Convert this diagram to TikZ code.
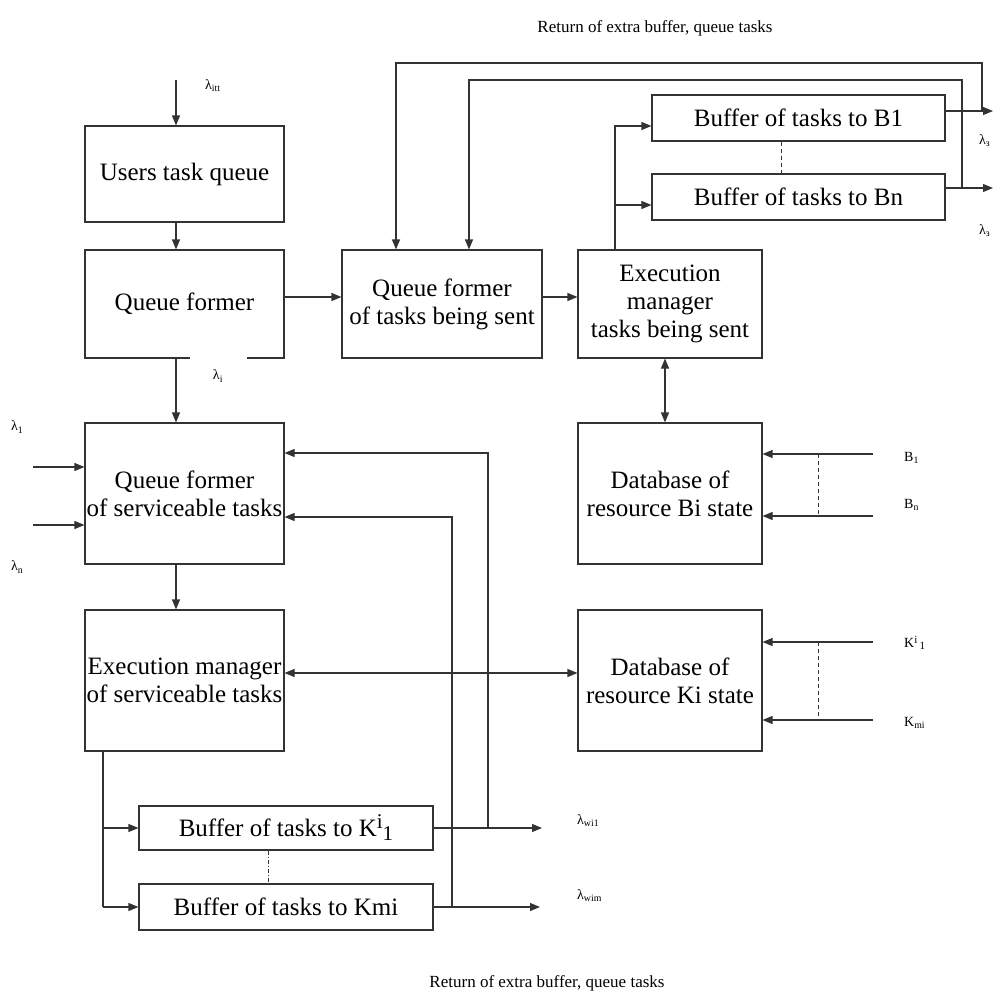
\documentclass[tikz,border=0pt]{standalone}
\usepackage{fontspec}
\setmainfont{Liberation Serif}
\usetikzlibrary{arrows.meta}
\begin{document}
\begin{tikzpicture}[x=1pt,y=-1pt,
  ln/.style={line width=1.1pt, draw=black!80},
  arr/.style={ln, -{Triangle[length=10pt,width=8pt]}},
  darr/.style={ln, {Triangle[length=10pt,width=8pt]}-{Triangle[length=10pt,width=8pt]}},
  blk/.style={draw=black!80, line width=1.1pt, fill=white, align=center, inner sep=0pt, font=\fontsize{25}{28}\selectfont},
  lab/.style={font=\fontsize{14}{16}\selectfont, inner sep=1pt},
  big/.style={font=\fontsize{17}{20}\selectfont, inner sep=0pt},
]
\useasboundingbox (0,0) rectangle (994,994);
\clip (0,0) rectangle (994,994);

% blocks
\node[blk, minimum width=199pt, minimum height=96pt]  (utq)  at (184.5,174)   {Users task queue};
\node[blk, minimum width=199pt, minimum height=108pt] (qf)   at (184.5,304)   {Queue former};
\node[blk, minimum width=200pt, minimum height=108pt] (qfts) at (442,304)     {Queue former\\of tasks being sent};
\node[blk, minimum width=184pt, minimum height=108pt] (ems)  at (670,304)     {Execution\\manager\\tasks being sent};
\node[blk, minimum width=293pt, minimum height=46pt]  (bb1)  at (798.5,118)   {Buffer of tasks to B1};
\node[blk, minimum width=293pt, minimum height=46pt]  (bbn)  at (798.5,197)   {Buffer of tasks to Bn};
\node[blk, minimum width=199pt, minimum height=141pt] (qfv)  at (184.5,493.5) {Queue former\\of serviceable tasks};
\node[blk, minimum width=199pt, minimum height=141pt] (emv)  at (184.5,680.5) {Execution manager\\of serviceable tasks};
\node[blk, minimum width=184pt, minimum height=141pt] (dbb)  at (670,493.5)   {Database of\\resource Bi state};
\node[blk, minimum width=184pt, minimum height=141pt] (dbk)  at (670,680.5)   {Database of\\resource Ki state};
\node[blk, minimum width=294pt, minimum height=44pt]  (bk1)  at (286,828)     {Buffer of tasks to K{\fontsize{21}{21}\selectfont\raisebox{8pt}{i}\raisebox{-4pt}{1}}};
\node[blk, minimum width=294pt, minimum height=46pt]  (bkm)  at (286,907)     {Buffer of tasks to Kmi};

% helper coordinates
\coordinate (xa) at (176,0);
\coordinate (in0) at (176,80);
\coordinate (ya) at (0,297);
\coordinate (yb) at (0,673);
\coordinate (xb) at (665,0);
\coordinate (xc) at (615,0);
\coordinate (yc) at (0,126);
\coordinate (yd) at (0,205);
\coordinate (xe) at (781,0);
\coordinate (ye1) at (0,111);
\coordinate (ye2) at (0,188);
\coordinate (o1) at (993,111);
\coordinate (o2) at (993,188);
\coordinate (j1) at (982,111);
\coordinate (j2) at (962,188);
\coordinate (yr1) at (0,63);
\coordinate (yr2) at (0,80);
\coordinate (xr1) at (396,0);
\coordinate (xr2) at (469,0);
\coordinate (l1) at (33,467);
\coordinate (l2) at (33,525);
\coordinate (b1) at (873,454);
\coordinate (b2) at (873,516);
\coordinate (b1d) at (818,454);
\coordinate (b2d) at (818,516);
\coordinate (k1) at (873,642);
\coordinate (k2) at (873,720);
\coordinate (k1d) at (818,642);
\coordinate (k2d) at (818,720);
\coordinate (xd) at (103,0);
\coordinate (yk1) at (0,828);
\coordinate (yk2) at (0,907);
\coordinate (xf) at (268,0);
\coordinate (ok1) at (542,828);
\coordinate (ok2) at (540,907);
\coordinate (xg1) at (488,0);
\coordinate (xg2) at (452,0);
\coordinate (yq1) at (0,453);
\coordinate (yq2) at (0,517);

% connectors
\draw[arr] (in0) -- (utq.north -| xa);
\draw[arr] (utq.south -| xa) -- (qf.north -| xa);
\draw[arr] (qf.east |- ya) -- (qfts.west |- ya);
\draw[arr] (qfts.east |- ya) -- (ems.west |- ya);
\draw[arr] (qf.south -| xa) -- (qfv.north -| xa);
\draw[arr] (qfv.south -| xa) -- (emv.north -| xa);
\draw[darr] (emv.east |- yb) -- (dbk.west |- yb);
\draw[darr] (ems.south -| xb) -- (dbb.north -| xb);

\draw[arr] (ems.north -| xc) -- (xc |- yc) -- (bb1.west |- yc);
\draw[arr] (xc |- yd) -- (bbn.west |- yd);
\draw[ln, line width=0.8pt, dash pattern=on 4pt off 3pt] (bb1.south -| xe) -- (bbn.north -| xe);

\draw[arr] (bb1.east |- ye1) -- (o1);
\draw[arr] (bbn.east |- ye2) -- (o2);
\draw[arr] (j1) -- (j1 |- yr1) -- (xr1 |- yr1) -- (qfts.north -| xr1);
\draw[arr] (j2) -- (j2 |- yr2) -- (xr2 |- yr2) -- (qfts.north -| xr2);

\draw[arr] (l1) -- (qfv.west |- l1);
\draw[arr] (l2) -- (qfv.west |- l2);

\draw[arr] (b1) -- (dbb.east |- b1);
\draw[arr] (b2) -- (dbb.east |- b2);
\draw[ln, line width=0.8pt, dash pattern=on 4pt off 3pt] (b1d) -- (b2d);
\draw[arr] (k1) -- (dbk.east |- k1);
\draw[arr] (k2) -- (dbk.east |- k2);
\draw[ln, line width=0.8pt, dash pattern=on 4pt off 3pt] (k1d) -- (k2d);

\draw[ln] (emv.south -| xd) -- (xd |- yk2);
\draw[arr] (xd |- yk1) -- (bk1.west |- yk1);
\draw[arr] (xd |- yk2) -- (bkm.west |- yk2);
\draw[ln, line width=0.7pt, dash pattern=on 4pt off 2pt on 1pt off 2pt] (bk1.south -| xf) -- (bkm.north -| xf);
\draw[arr] (bk1.east |- yk1) -- (ok1);
\draw[arr] (bkm.east |- yk2) -- (ok2);
\draw[arr] (xg1 |- yk1) -- (xg1 |- yq1) -- (qfv.east |- yq1);
\draw[arr] (xg2 |- yk2) -- (xg2 |- yq2) -- (qfv.east |- yq2);

% labels
\node[big] (ttop) at (655,28) {Return of extra buffer, queue tasks};
\node[big] (tbot) at (547,983) {Return of extra buffer, queue tasks};
\node[lab, anchor=west] (litt) at (204,86) {λ\textsubscript{itt}};
\node[lab, fill=white, minimum width=57pt, minimum height=46pt] (li) at (218,376) {λ\textsubscript{i}};
\node[lab, anchor=west] (l1t) at (10,427) {λ\textsubscript{1}};
\node[lab, anchor=west] (lnt) at (10,567) {λ\textsubscript{n}};
\node[lab, anchor=west] (lb1) at (978,141) {λ\textsubscript{з}};
\node[lab, anchor=west] (lbn) at (978,231) {λ\textsubscript{з}};
\node[lab, anchor=west] (tb1) at (903,458) {B\textsubscript{1}};
\node[lab, anchor=west] (tbn) at (903,505) {B\textsubscript{n}};
\node[lab, anchor=west] (tk1) at (903,643) {K\raisebox{4pt}{\fontsize{11}{11}\selectfont i}\,\raisebox{-2pt}{\fontsize{11}{11}\selectfont 1}};
\node[lab, anchor=west] (tkm) at (903,723) {K\textsubscript{mi}};
\node[lab, anchor=west] (lw1) at (576,821) {λ\textsubscript{wi1}};
\node[lab, anchor=west] (lwm) at (576,896) {λ\textsubscript{wim}};
\end{tikzpicture}
\end{document}
